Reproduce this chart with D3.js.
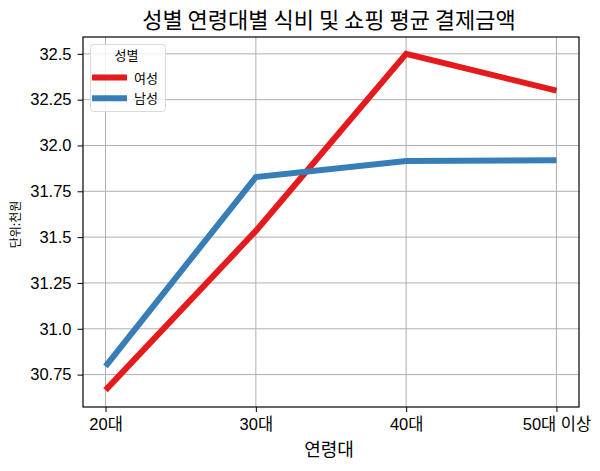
<!DOCTYPE html>
<html><head><meta charset="utf-8">
<script src="https://cdn.jsdelivr.net/npm/d3@7"></script>
<style>body{margin:0;background:#fff}</style>
</head><body>
<svg id="c" width="600" height="471"></svg>
<script>
const categories = ["20대", "30대", "40대", "50대 이상"];
const femaleValues = [30.665, 31.534, 32.50, 32.299];
const maleValues = [30.795, 31.828, 31.915, 31.92];
const yTicks = [30.75, 31.0, 31.25, 31.5, 31.75, 32.0, 32.25, 32.5];
const yTickLabels = ["30.75", "31.0", "31.25", "31.5", "31.75", "32.0", "32.25", "32.5"];
const seriesNames = ["여성", "남성"];
const colors = ["#e41a1c", "#377eb8"];

const font = "'Liberation Sans', 'Noto Sans CJK KR', sans-serif";
const kfont = "'Noto Sans CJK KR', 'Noto Sans', sans-serif";
const svg = d3.select("#c");
const L = 83, R = 579, T = 37, B = 407;

// matplotlib-like 5% margins
const xi = d3.scaleLinear().domain([-0.15, categories.length - 1 + 0.15]).range([L, R]);
const all = femaleValues.concat(maleValues);
const mn = d3.min(all), mx = d3.max(all), pad = (mx - mn) * 0.05;
const y = d3.scaleLinear().domain([mn - pad, mx + pad]).range([B, T]);

// grid
const g = svg.append("g");
g.selectAll(".vg").data(categories).enter().append("line")
  .attr("x1", (d, i) => xi(i)).attr("x2", (d, i) => xi(i))
  .attr("y1", T).attr("y2", B).attr("stroke", "#b0b0b0").attr("stroke-width", 1);
g.selectAll(".hg").data(yTicks).enter().append("line")
  .attr("x1", L).attr("x2", R).attr("y1", d => y(d)).attr("y2", d => y(d))
  .attr("stroke", "#b0b0b0").attr("stroke-width", 1);

// lines
const line = d3.line().x((d, i) => xi(i)).y(d => y(d));
[femaleValues, maleValues].forEach((vals, k) => {
  svg.append("path").datum(vals).attr("d", line).attr("fill", "none")
    .attr("stroke", colors[k]).attr("stroke-width", 6).attr("stroke-linecap", "butt")
    .attr("stroke-linejoin", "miter");
});

// frame
svg.append("rect").attr("x", L).attr("y", T).attr("width", R - L).attr("height", B - T)
  .attr("fill", "none").attr("stroke", "#000").attr("stroke-width", 1.2);

// axes
const xAxis = d3.axisBottom(xi).tickValues(d3.range(categories.length)).tickFormat(i => categories[i]).tickSize(5).tickPadding(6.5);
const xa = svg.append("g").attr("transform", `translate(0,${B})`).call(xAxis);
const yAxis = d3.axisLeft(y).tickValues(yTicks).tickFormat((d, i) => yTickLabels[i]).tickSize(5.5).tickPadding(6);
const ya = svg.append("g").attr("transform", `translate(${L},0)`).call(yAxis);
[xa, ya].forEach(a => {
  a.select(".domain").remove();
  a.selectAll("text").attr("font-family", font).attr("font-size", 16.5).attr("fill", "#000");
  a.selectAll("line").attr("stroke", "#000");
});

// title and labels
svg.append("text").attr("x", (L + R) / 2 - 2).attr("y", 27.5).attr("text-anchor", "middle")
  .attr("font-family", kfont).attr("font-size", 22).text("성별 연령대별 식비 및 쇼핑 평균 결제금액");
svg.append("text").attr("x", (L + R) / 2 - 2).attr("y", 456).attr("text-anchor", "middle")
  .attr("font-family", kfont).attr("font-size", 18).text("연령대");
svg.append("text").attr("transform", `translate(20,224.5) rotate(-90)`).attr("text-anchor", "middle")
  .attr("font-family", kfont).attr("font-size", 12).text("단위:천원");

// legend
const lg = svg.append("g");
lg.append("rect").attr("x", 90.5).attr("y", 44.5).attr("width", 75).attr("height", 67).attr("rx", 3)
  .attr("fill", "#fff").attr("fill-opacity", 0.8).attr("stroke", "#d9d9d9");
lg.append("text").attr("x", 126.5).attr("y", 60).attr("text-anchor", "middle")
  .attr("font-family", kfont).attr("font-size", 13).text("성별");
seriesNames.forEach((n, k) => {
  const yy = 77.5 + k * 20.7;
  lg.append("line").attr("x1", 92).attr("x2", 127).attr("y1", yy).attr("y2", yy)
    .attr("stroke", colors[k]).attr("stroke-width", 6);
  lg.append("text").attr("x", 134).attr("y", yy + 5).attr("font-family", kfont)
    .attr("font-size", 13).text(n);
});
</script>
</body></html>
